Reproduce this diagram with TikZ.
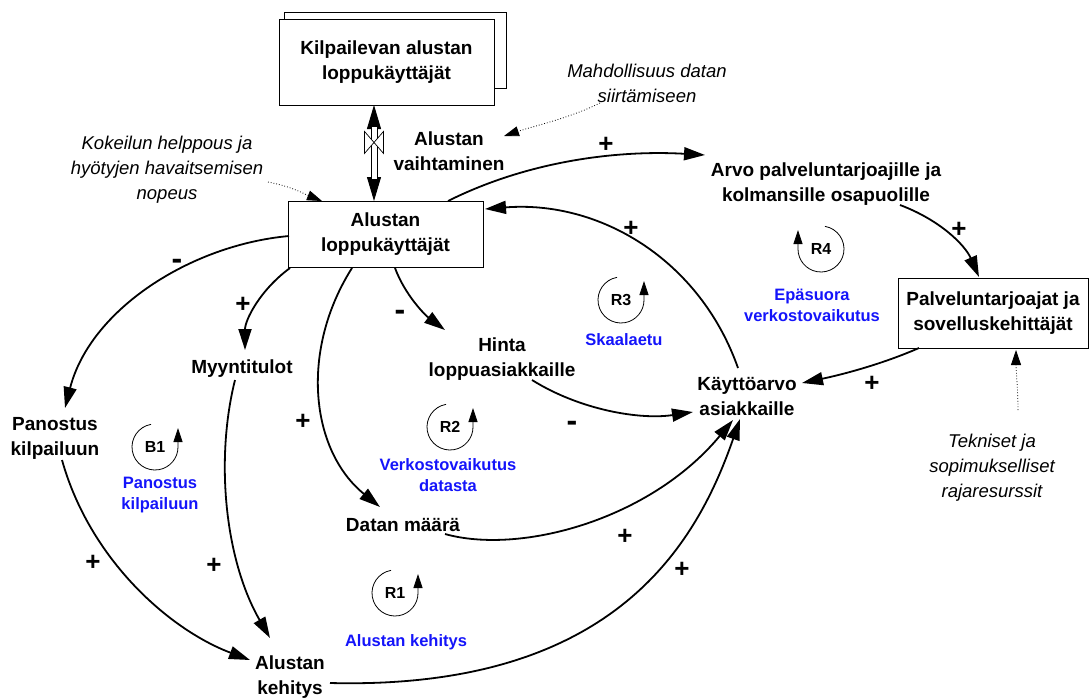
\documentclass[tikz,border=0pt]{standalone}
\usepackage{fontspec}
\setmainfont{Liberation Sans}
\usetikzlibrary{arrows.meta,calc,backgrounds}
\definecolor{loopblue}{RGB}{20,20,250}
\newcommand\loopccw[3]{\node[looplab] (#1) at (#2) {#3};
  \draw[loopline] (#1.center) ++(-100:23) arc[start angle=-100,end angle=-360,radius=23] -- ++(0,-19);}
\newcommand\loopcw[3]{\node[looplab] (#1) at (#2) {#3};
  \draw[loopline] (#1.center) ++(-80:23) arc[start angle=-80,end angle=180,radius=23] -- ++(0,-19);}
\begin{document}
\begin{tikzpicture}[x=1pt,y=-1pt,
  cldlab/.style={font=\fontsize{19}{25}\selectfont\bfseries, align=center, inner sep=0pt},
  cldbox/.style={cldlab, draw, line width=0.9pt, fill=white},
  cldnote/.style={font=\fontsize{18.5}{25}\selectfont\itshape, align=center, inner sep=0pt},
  loopname/.style={font=\fontsize{16.5}{21}\selectfont\bfseries, text=loopblue, align=center, inner sep=0pt},
  looplab/.style={font=\fontsize{16}{18}\selectfont\bfseries, inner sep=0pt},
  loopline/.style={line width=0.8pt, -{Triangle[length=14pt,width=9pt]}},
  plussign/.style={font=\fontsize{26}{26}\selectfont\bfseries, inner sep=0pt},
  minussign/.style={font=\fontsize{32}{32}\selectfont\bfseries, inner sep=0pt},
  cldlink/.style={line width=1.8pt, -{Triangle[length=21pt,width=13pt]}},
  cldhint/.style={line width=0.8pt, dotted, -{Triangle[length=15pt,width=10pt]}},
  flowhead/.style={line width=1pt, -{Triangle[length=24pt,width=14pt]}}]
\useasboundingbox (0,0) rectangle (1090,697);

% stocks (boxes)
\node[cldbox, minimum width=215pt, minimum height=86pt] (kil) at (386.5,62) {Kilpailevan alustan\\loppukäyttäjät};
\begin{scope}[on background layer]
  \draw[line width=0.9pt] ([shift={(-102.5,-50)}]kil.center) rectangle ([shift={(119.5,26)}]kil.center);
\end{scope}
\node[cldbox, minimum width=195pt, minimum height=66pt] (alu) at (385.5,234) {Alustan\\loppukäyttäjät};
\node[cldbox, minimum width=190pt, minimum height=70pt] (pal) at (993,313) {Palveluntarjoajat ja\\sovelluskehittäjät};

% variables
\node[cldlab] (vaih) at (449,151) {Alustan\\vaihtaminen};
\node[cldlab] (arvo) at (826,184) {Arvo palveluntarjoajille ja\\kolmansille osapuolille};
\node[cldlab] (kay) at (747,397) {Käyttöarvo\\asiakkaille};
\node[cldlab] (hinta) at (502,359) {Hinta\\loppuasiakkaille};
\node[cldlab] (myy) at (242,369) {Myyntitulot};
\node[cldlab] (pan) at (55,438) {Panostus\\kilpailuun};
\node[cldlab] (dat) at (403,525) {Datan määrä};
\node[cldlab] (keh) at (290,677) {Alustan\\kehitys};

% notes
\node[cldnote] (kok) at (167,170) {Kokeilun helppous ja\\hyötyjen havaitsemisen\\nopeus};
\node[cldnote] (mah) at (647,83) {Mahdollisuus datan\\siirtämiseen};
\node[cldnote] (tek) at (992,468) {Tekniset ja\\sopimukselliset\\rajaresurssit};

% flow between the two user stocks
\coordinate (ft) at ([shift={(-12.5,43)}]kil.center);
\coordinate (fb) at ([shift={(-11.5,-33)}]alu.center);
\draw[flowhead] ($(ft)!0.5!(fb)$) -- (ft);
\draw[flowhead] ($(ft)!0.5!(fb)$) -- (fb);
\draw[line width=1pt, double=white, double distance=5pt, shorten <=22pt, shorten >=22pt] (ft) -- (fb);
\coordinate (valve) at ($(ft)!0.39!(fb)$);
\draw[line width=0.7pt, fill=white] (valve) -- ++(-9.5,-11) -- ++(0,22) -- cycle
  (valve) -- ++(9.5,-11) -- ++(0,22) -- cycle;

% causal links
\draw[cldlink] ([shift={(62.5,-33)}]alu.center) .. controls +(82,-41) and +(-85,-5) .. ([shift={(-121,-29)}]arvo.center);
\draw[cldlink] ([shift={(74,21)}]arvo.center) .. controls +(40,15) and +(-14,-32) .. ([shift={(-14,-36)}]pal.center);
\draw[cldlink] ([shift={(-9,-29)}]kay.center) .. controls +(-38,-108) and +(115,-9) .. ([shift={(99.5,-25)}]alu.center);
\draw[cldlink] ([shift={(-96.5,2)}]alu.center) .. controls +(-99,9) and +(25,-98) .. ([shift={(10,-30)}]pan.center);
\draw[cldlink] ([shift={(-95.5,34)}]alu.center) .. controls +(-30,22) and +(0,-30) .. ([shift={(3,-19)}]myy.center);
\draw[cldlink] ([shift={(-33.5,34)}]alu.center) .. controls +(-52,82) and +(-70,-57) .. ([shift={(-23,-18)}]dat.center);
\draw[cldlink] ([shift={(9.5,34)}]alu.center) .. controls +(10,27) and +(-20,-15) .. ([shift={(-57,-29)}]hinta.center);
\draw[cldlink] ([shift={(30,21)}]hinta.center) .. controls +(48,30) and +(-53,8) .. ([shift={(-54,15)}]kay.center);
\draw[cldlink] ([shift={(-74,35)}]pal.center) .. controls +(-39,17) and +(38,-8) .. ([shift={(55,-14)}]kay.center);
\draw[cldlink] ([shift={(42,9)}]dat.center) .. controls +(75,21) and +(-83,100) .. ([shift={(-14,23)}]kay.center);
\draw[cldlink] ([shift={(40,6)}]keh.center) .. controls +(280,7) and +(-45,130) .. ([shift={(-7,22)}]kay.center);
\draw[cldlink] ([shift={(7,22)}]pan.center) .. controls +(28,100) and +(-80,-30) .. ([shift={(-40,-17)}]keh.center);
\draw[cldlink] ([shift={(-7,11)}]myy.center) .. controls +(-20,80) and +(-45,-78) .. ([shift={(-20,-39)}]keh.center);

% dotted hints
\draw[cldhint] ([shift={(101,12)}]kok.center) .. controls +(25,5) and +(-20,-8) .. ([shift={(-63.5,-33)}]alu.center);
\draw[cldhint] ([shift={(-47,20)}]mah.center) .. controls +(-30,15) and +(30,-10) .. ([shift={(55,-15)}]vaih.center);
\draw[cldhint] ([shift={(26,-58)}]tek.center) .. controls +(0,-20) and +(0,20) .. ([shift={(23,37)}]pal.center);

% polarity signs
\node[plussign] (p1) at (606,145) {+};
\node[plussign] (p2) at (959,230) {+};
\node[plussign] (p3) at (631,229) {+};
\node[minussign] (m4) at (177,264) {-};
\node[plussign] (p5) at (243,305) {+};
\node[minussign] (m6) at (400,315) {-};
\node[plussign] (p7) at (303,422) {+};
\node[minussign] (m8) at (572,426) {-};
\node[plussign] (p9) at (872,384) {+};
\node[plussign] (p10) at (93,563) {+};
\node[plussign] (p11) at (214,566) {+};
\node[plussign] (p12) at (625,537) {+};
\node[plussign] (p13) at (682,570) {+};

% loops
\loopccw{b1}{155,447}{B1}
\loopccw{r2}{450,427}{R2}
\loopccw{r3}{621,300}{R3}
\loopcw{r4}{821,249}{R4}
\loopccw{r1}{395,593}{R1}
\node[loopname] (nb1) at (160,495) {Panostus\\kilpailuun};
\node[loopname] (nr2) at (448,475) {Verkostovaikutus\\datasta};
\node[loopname] (nr3) at (624,340) {Skaalaetu};
\node[loopname] (nr4) at (812,305) {Epäsuora\\verkostovaikutus};
\node[loopname] (nr1) at (406,642) {Alustan kehitys};
\end{tikzpicture}
\end{document}
